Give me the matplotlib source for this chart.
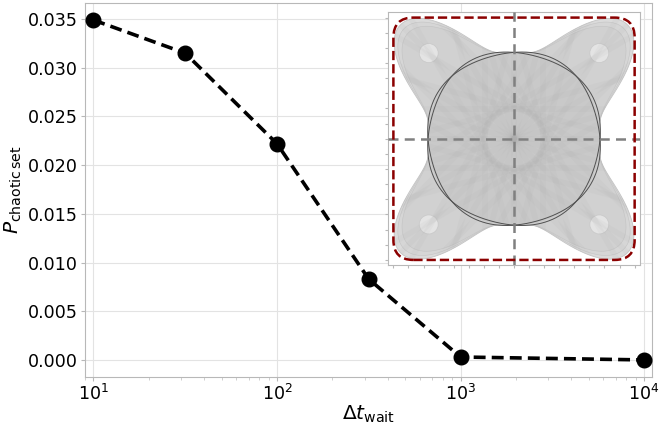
import numpy as np
import matplotlib.pyplot as plt
from matplotlib.patches import FancyBboxPatch, Polygon

# data
wait_times = [10, 31.6, 100, 316, 1000, 10000]
p_chaotic = [0.0349, 0.0315, 0.0222, 0.0083, 0.0003, 0.0000]
y_ticks = [0.000, 0.005, 0.010, 0.015, 0.020, 0.025, 0.030, 0.035]

fig = plt.figure(figsize=(6.59, 4.25), dpi=100)
ax = fig.add_axes([0.129, 0.113, 0.860, 0.880])

ax.plot(wait_times, p_chaotic, color="black", ls="--", lw=2.6, marker="o", ms=10.5,
        dashes=(3.3, 1.7), zorder=3)
ax.set_xscale("log")
ax.set_xlim(9, 11000)
ax.set_ylim(-0.00175, 0.03665)
ax.set_yticks(y_ticks)
ax.set_yticklabels([f"{v:.3f}" for v in y_ticks])
ax.grid(True, which="major", color="#e3e3e3", lw=0.8)
ax.set_axisbelow(True)
for s in ax.spines.values():
    s.set_color("#b8b8b8")
ax.tick_params(labelsize=12.6, colors="#b8b8b8", labelcolor="black", length=3, pad=2)
ax.tick_params(which="minor", colors="#c8c8c8", length=2)
ax.set_xlabel(r"$\Delta t_{\mathrm{wait}}$", fontsize=14.5, labelpad=0)
ax.set_ylabel(r"$P_{\mathrm{chaotic\,set}}$", fontsize=14.5, labelpad=3)

# inset: sketch of the chaotic set
ins = fig.add_axes([0.589, 0.376, 0.382, 0.595])
ins.set_xlim(-1.2, 1.2)
ins.set_ylim(-1.2, 1.2)
tk = np.linspace(-1.15, 1.15, 17)
ins.set_xticks(tk)
ins.set_yticks(tk)
ins.set_xticklabels([])
ins.set_yticklabels([])
ins.tick_params(length=2, colors="#b8b8b8")
for s in ins.spines.values():
    s.set_color("#b8b8b8")

th = np.linspace(0, 2 * np.pi, 1441)
s2 = np.abs(np.sin(2 * th))
r_out = 0.82 + 0.71 * s2 ** 4
env = Polygon(np.c_[r_out * np.cos(th), r_out * np.sin(th)], closed=True,
              fc="#dbdbdb", ec="#c4c4c4", lw=0.6, zorder=1)
ins.add_patch(env)
# softer inner rings of the lobes
for scale, col in [(0.93, "#d4d4d4"), (0.85, "#cfcfcf")]:
    rr = 0.82 + 0.71 * scale * s2 ** 4
    ins.add_patch(Polygon(np.c_[rr * np.cos(th), rr * np.sin(th)], closed=True,
                          fc=col, ec="#bcbcbc", lw=0.4, alpha=0.7, zorder=1))
for k in range(4):
    a = np.pi / 4 + k * np.pi / 2
    cx, cy = 1.15 * np.cos(a), 1.15 * np.sin(a)
    ins.add_patch(plt.Circle((cx, cy), 0.09, fc="#eaeaea", ec="#c4c4c4", lw=0.5,
                             alpha=0.8, zorder=2))

bulge = 0.82 * (1 + 0.012 * (1 - np.cos(4 * th)))
ins.add_patch(Polygon(np.c_[bulge * np.cos(th), bulge * np.sin(th)], closed=True,
                      fc="#c8c8c8", ec="none", alpha=0.8, zorder=2))
for ang in np.linspace(0, np.pi, 12, endpoint=False):
    d = np.array([np.cos(ang), np.sin(ang)])
    n = np.array([-d[1], d[0]])
    for off in (-0.28, 0.0, 0.28):
        p0 = -1.6 * d + off * n
        p1 = 1.6 * d + off * n
        ln, = ins.plot([p0[0], p1[0]], [p0[1], p1[1]], color="#a0a0a0", lw=4,
                       alpha=0.07, solid_capstyle="butt", zorder=3)
        ln.set_clip_path(env)
for sgn in (1, -1):
    rr = bulge * (1 + sgn * 0.02 * np.sin(4 * th))
    ins.plot(rr * np.cos(th), rr * np.sin(th), color="#505050", lw=0.7, zorder=4)

ins.axhline(0, color="#808080", ls="--", lw=1.8, dashes=(4, 2.5), zorder=5)
ins.axvline(0, color="#808080", ls="--", lw=1.8, dashes=(4, 2.5), zorder=5)
ins.add_patch(FancyBboxPatch((-0.96, -0.96), 1.92, 1.92,
                             boxstyle="round,pad=0.19", fc="none", ec="#8b0000",
                             lw=1.8, ls="--", zorder=6))

fig.savefig("out.png", dpi=100)
